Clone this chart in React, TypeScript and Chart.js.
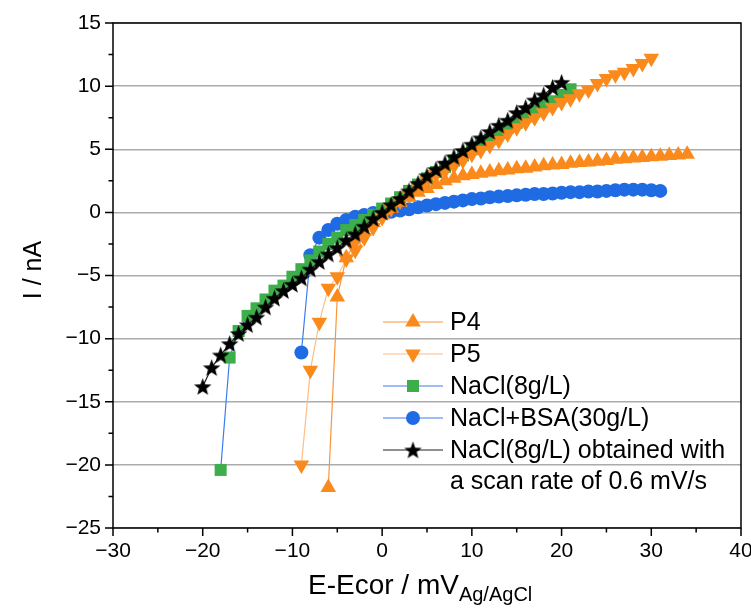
import React, { useEffect, useRef } from "react";
import { Chart, registerables } from "chart.js";
Chart.register(...registerables);

const FONT = '"Liberation Sans", Arial, Helvetica, sans-serif';

const xTicks = [-30, -20, -10, 0, 10, 20, 30, 40];
const yTicks = [-25, -20, -15, -10, -5, 0, 5, 10, 15];

// P4 (up triangles)
const p4E = [-6, -5, -4, -3, -2, -1, 0, 1, 2, 3, 4, 5, 6, 7, 8, 9, 10, 11, 12, 13, 14, 15, 16, 17, 18, 19, 20, 21, 22, 23, 24, 25, 26, 27, 28, 29, 30, 31, 32, 33, 34];
const p4I = [-21.8, -6.7, -3.6, -2.4, -1.5, -0.8, -0.2, 0.3, 0.8, 1.2, 1.6, 1.9, 2.2, 2.5, 2.7, 2.9, 3.0, 3.1, 3.2, 3.3, 3.35, 3.45, 3.5, 3.6, 3.7, 3.75, 3.8, 3.9, 3.95, 4.0, 4.05, 4.1, 4.2, 4.25, 4.3, 4.35, 4.4, 4.45, 4.5, 4.55, 4.6];

// P5 (down triangles)
const p5E = [-9, -8, -7, -6, -5, -4, -3, -2, -1, 0, 1, 2, 3, 4, 5, 6, 7, 8, 9, 10, 11, 12, 13, 14, 15, 16, 17, 18, 19, 20, 21, 22, 23, 24, 25, 26, 27, 28, 29, 30];
const p5I = [-20.0, -12.5, -8.7, -6.0, -5.1, -3.7, -3.0, -2.0, -1.2, -0.4, 0.3, 0.9, 1.4, 2.0, 2.5, 3.0, 3.3, 3.7, 4.1, 4.6, 4.9, 5.3, 5.7, 6.2, 6.7, 7.1, 7.5, 7.9, 8.3, 8.7, 9.0, 9.4, 9.7, 10.2, 10.6, 10.9, 11.1, 11.4, 11.8, 12.2];

// NaCl(8g/L) (green squares)
const naclE = [-18, -17, -16, -15, -14, -13, -12, -11, -10, -9, -8, -7, -6, -5, -4, -3, -2, -1, 0, 1, 2, 3, 4, 5, 6, 7, 8, 9, 10, 11, 12, 13, 14, 15, 16, 17, 18, 19, 20, 21];
const naclI = [-20.4, -11.5, -9.4, -8.2, -7.6, -6.9, -6.2, -5.8, -5.1, -4.5, -3.8, -3.1, -2.5, -2.0, -1.4, -1.0, -0.6, -0.2, 0.3, 0.7, 1.2, 1.7, 2.2, 2.7, 3.2, 3.6, 4.1, 4.5, 5.0, 5.4, 5.8, 6.3, 6.7, 7.1, 7.6, 8.0, 8.4, 8.8, 9.3, 9.75];

// NaCl+BSA(30g/L) (blue circles)
const bsaE = [-9, -8, -7, -6, -5, -4, -3, -2, -1, 0, 1, 2, 3, 4, 5, 6, 7, 8, 9, 10, 11, 12, 13, 14, 15, 16, 17, 18, 19, 20, 21, 22, 23, 24, 25, 26, 27, 28, 29, 30, 31];
const bsaI = [-11.1, -3.4, -2.0, -1.4, -0.9, -0.6, -0.35, -0.2, -0.05, 0.0, 0.05, 0.15, 0.25, 0.4, 0.55, 0.65, 0.75, 0.85, 0.95, 1.05, 1.1, 1.2, 1.25, 1.3, 1.35, 1.4, 1.45, 1.45, 1.5, 1.55, 1.6, 1.6, 1.65, 1.65, 1.7, 1.75, 1.8, 1.8, 1.8, 1.75, 1.7];

// NaCl(8g/L) at 0.6 mV/s (black stars)
const slowE = [-20, -19, -18, -17, -16, -15, -14, -13, -12, -11, -10, -9, -8, -7, -6, -5, -4, -3, -2, -1, 0, 1, 2, 3, 4, 5, 6, 7, 8, 9, 10, 11, 12, 13, 14, 15, 16, 17, 18, 19, 20];
const slowI = [-13.8, -12.3, -11.3, -10.4, -9.6, -8.9, -8.3, -7.5, -6.8, -6.2, -5.7, -5.2, -4.5, -3.9, -3.3, -2.8, -2.2, -1.7, -1.1, -0.5, 0.0, 0.6, 1.1, 1.7, 2.3, 2.9, 3.4, 3.9, 4.4, 4.9, 5.4, 5.9, 6.4, 6.9, 7.3, 7.9, 8.3, 8.9, 9.3, 9.9, 10.3];

const legendLabels = ["P4", "P5", "NaCl(8g/L)", "NaCl+BSA(30g/L)", "NaCl(8g/L) obtained with", "a scan rate of 0.6 mV/s"];

const ORANGE = "#FB8A1C";
const ORANGE_LINE = "#F9963C";
const ORANGE_LIGHT = "#FDBE85";
const GREEN = "#3DAE4A";
const BLUE = "#1F6BE3";
const BLUE_LINE = "#3A7CEE";

function fmt(v: number | string) {
  const n = Number(v);
  return n < 0 ? "\u2212" + Math.abs(n) : String(n);
}

function makeStar(size: number, color: string) {
  const c = document.createElement("canvas");
  c.width = size;
  c.height = size;
  const ctx = c.getContext("2d")!;
  const cx = size / 2, cy = size / 2 + 0.8, R = size / 2 - 0.3, r = R * 0.42;
  ctx.beginPath();
  for (let i = 0; i < 10; i++) {
    const a = -Math.PI / 2 + (i * Math.PI) / 5;
    const rr = i % 2 ? r : R;
    ctx.lineTo(cx + rr * Math.cos(a), cy + rr * Math.sin(a));
  }
  ctx.closePath();
  ctx.fillStyle = color;
  ctx.fill();
  return c;
}

function pts(xs: number[], ys: number[]) {
  return xs.map((x, i) => ({ x, y: ys[i] }));
}

function drawMarker(ctx: CanvasRenderingContext2D, kind: string, x: number, y: number, color: string, star?: HTMLCanvasElement) {
  ctx.save();
  ctx.fillStyle = color;
  ctx.beginPath();
  if (kind === "up" || kind === "down") {
    const r = 9;
    const s = kind === "up" ? 1 : -1;
    ctx.moveTo(x, y - s * r);
    ctx.lineTo(x + r * Math.sin((2 * Math.PI) / 3), y + (s * r) / 2);
    ctx.lineTo(x - r * Math.sin((2 * Math.PI) / 3), y + (s * r) / 2);
    ctx.closePath();
    ctx.fill();
  } else if (kind === "rect") {
    ctx.rect(x - 6, y - 6, 12, 12);
    ctx.fill();
  } else if (kind === "circle") {
    ctx.arc(x, y, 7, 0, Math.PI * 2);
    ctx.fill();
  } else if (kind === "star" && star) {
    ctx.drawImage(star, x - star.width / 2, y - star.height / 2);
  }
  ctx.restore();
}

export default function App() {
  const ref = useRef<HTMLCanvasElement | null>(null);

  useEffect(() => {
    const canvas = ref.current;
    if (!canvas) return;
    const star = makeStar(19, "#000000");

    const legendItems = [
      { kind: "up", line: ORANGE_LINE, color: ORANGE },
      { kind: "down", line: ORANGE_LIGHT, color: ORANGE },
      { kind: "rect", line: BLUE_LINE, color: GREEN },
      { kind: "circle", line: BLUE_LINE, color: BLUE },
      { kind: "star", line: "#222222", color: "#000" },
    ];

    const overlay = {
      id: "overlay",
      afterDraw(chart: any) {
        const ctx: CanvasRenderingContext2D = chart.ctx;
        const { left, right, top, bottom } = chart.chartArea;
        const xs = chart.scales.x;
        const ys = chart.scales.y;
        ctx.save();
        // frame
        ctx.strokeStyle = "#000";
        ctx.lineWidth = 1.5;
        ctx.strokeRect(left, top, right - left, bottom - top);
        // ticks
        ctx.beginPath();
        for (let i = 0; i < yTicks.length; i++) {
          const py = ys.getPixelForValue(yTicks[i]);
          ctx.moveTo(left - 8, py);
          ctx.lineTo(left, py);
          if (i < yTicks.length - 1) {
            const pm = ys.getPixelForValue((yTicks[i] + yTicks[i + 1]) / 2);
            ctx.moveTo(left - 4.5, pm);
            ctx.lineTo(left, pm);
          }
        }
        for (let i = 0; i < xTicks.length; i++) {
          const px = xs.getPixelForValue(xTicks[i]);
          ctx.moveTo(px, bottom);
          ctx.lineTo(px, bottom + 8);
          if (i < xTicks.length - 1) {
            const pm = xs.getPixelForValue((xTicks[i] + xTicks[i + 1]) / 2);
            ctx.moveTo(pm, bottom);
            ctx.lineTo(pm, bottom + 4.5);
          }
        }
        ctx.stroke();

        // axis titles
        ctx.fillStyle = "#000";
        ctx.font = `25px ${FONT}`;
        ctx.textAlign = "center";
        ctx.textBaseline = "middle";
        ctx.save();
        ctx.translate(34, 270);
        ctx.rotate(-Math.PI / 2);
        ctx.fillText("I / nA", 0, 0);
        ctx.restore();

        const main = "E-Ecor / mV";
        const sub = "Ag/AgCl";
        ctx.font = `28px ${FONT}`;
        const wMain = ctx.measureText(main).width;
        const startX = 308;
        ctx.textAlign = "left";
        ctx.textBaseline = "alphabetic";
        ctx.fillText(main, startX, 594);
        ctx.font = `20px ${FONT}`;
        ctx.fillText(sub, startX + wMain, 601);

        // legend
        const rowY = [322, 354, 386, 418, 450, 481];
        ctx.font = `25px ${FONT}`;
        ctx.textBaseline = "middle";
        for (let i = 0; i < legendLabels.length; i++) {
          const y = rowY[i];
          if (i < legendItems.length) {
            const it = legendItems[i];
            ctx.strokeStyle = it.line;
            ctx.lineWidth = 1.2;
            ctx.beginPath();
            ctx.moveTo(383, y);
            ctx.lineTo(443, y);
            ctx.stroke();
            drawMarker(ctx, it.kind, 413, y, it.color, star);
          }
          ctx.fillStyle = "#000";
          ctx.fillText(legendLabels[i], 450, y + 1);
        }
        ctx.restore();
      },
    };

    const chart = new Chart(canvas, {
      type: "scatter",
      data: {
        datasets: [
          {
            label: "P4",
            data: pts(p4E, p4I),
            showLine: true,
            borderColor: ORANGE_LINE,
            borderWidth: 1.2,
            pointStyle: "triangle",
            pointRadius: 9,
            pointBackgroundColor: ORANGE,
            pointBorderColor: ORANGE,
            pointBorderWidth: 0,
            order: 2,
          },
          {
            label: "P5",
            data: pts(p5E, p5I),
            showLine: true,
            borderColor: ORANGE_LIGHT,
            borderWidth: 1.2,
            pointStyle: "triangle",
            pointRotation: 180,
            pointRadius: 9,
            pointBackgroundColor: ORANGE,
            pointBorderColor: ORANGE,
            pointBorderWidth: 0,
            order: 1,
          },
          {
            label: "NaCl(8g/L)",
            data: pts(naclE, naclI),
            showLine: true,
            borderColor: BLUE_LINE,
            borderWidth: 1.2,
            pointStyle: "rect",
            pointRadius: 8.5,
            pointBackgroundColor: GREEN,
            pointBorderColor: GREEN,
            pointBorderWidth: 0,
            order: 3,
          },
          {
            label: "NaCl+BSA(30g/L)",
            data: pts(bsaE, bsaI),
            showLine: true,
            borderColor: BLUE_LINE,
            borderWidth: 1.2,
            pointStyle: "circle",
            pointRadius: 7,
            pointBackgroundColor: BLUE,
            pointBorderColor: BLUE,
            pointBorderWidth: 0,
            order: 4,
          },
          {
            label: "NaCl(8g/L) 0.6 mV/s",
            data: pts(slowE, slowI),
            showLine: true,
            borderColor: "#222222",
            borderWidth: 1.2,
            pointStyle: star as any,
            pointRadius: 9,
            pointBackgroundColor: "#000",
            pointBorderColor: "#000",
            pointBorderWidth: 0,
            order: 0,
          },
        ] as any,
      },
      options: {
        animation: false,
        responsive: false,
        devicePixelRatio: 1,
        layout: { padding: { top: 23, right: 10, left: 0, bottom: 0 } },
        plugins: { legend: { display: false }, tooltip: { enabled: false } },
        elements: { line: { tension: 0 } },
        scales: {
          x: {
            type: "linear",
            min: -30,
            max: 40,
            afterBuildTicks: (s: any) => {
              s.ticks = xTicks.map((v) => ({ value: v }));
            },
            afterFit: (s: any) => {
              s.height = 84;
              s.paddingLeft = 0;
              s.paddingRight = 0;
            },
            grid: { display: false, drawTicks: false },
            border: { display: false },
            ticks: {
              font: { family: FONT, size: 21 },
              color: "#000",
              padding: 11,
              maxRotation: 0,
              autoSkip: false,
              callback: (v: any) => fmt(v),
            },
          },
          y: {
            type: "linear",
            min: -25,
            max: 15,
            afterBuildTicks: (s: any) => {
              s.ticks = yTicks.map((v) => ({ value: v }));
            },
            afterFit: (s: any) => {
              s.width = 113;
              s.paddingTop = 0;
              s.paddingBottom = 0;
            },
            grid: { color: "#ababab", lineWidth: 1.5, drawTicks: false },
            border: { display: false },
            ticks: {
              font: { family: FONT, size: 21 },
              color: "#000",
              padding: 12,
              autoSkip: false,
              callback: (v: any) => fmt(v),
            },
          },
        },
      } as any,
      plugins: [overlay],
    });

    return () => chart.destroy();
  }, []);

  return (
    <div style={{ position: "absolute", left: 0, top: 0, width: 751, height: 612, background: "#fff" }}>
      <canvas ref={ref} width={751} height={612} style={{ display: "block", width: 751, height: 612 }} />
    </div>
  );
}
